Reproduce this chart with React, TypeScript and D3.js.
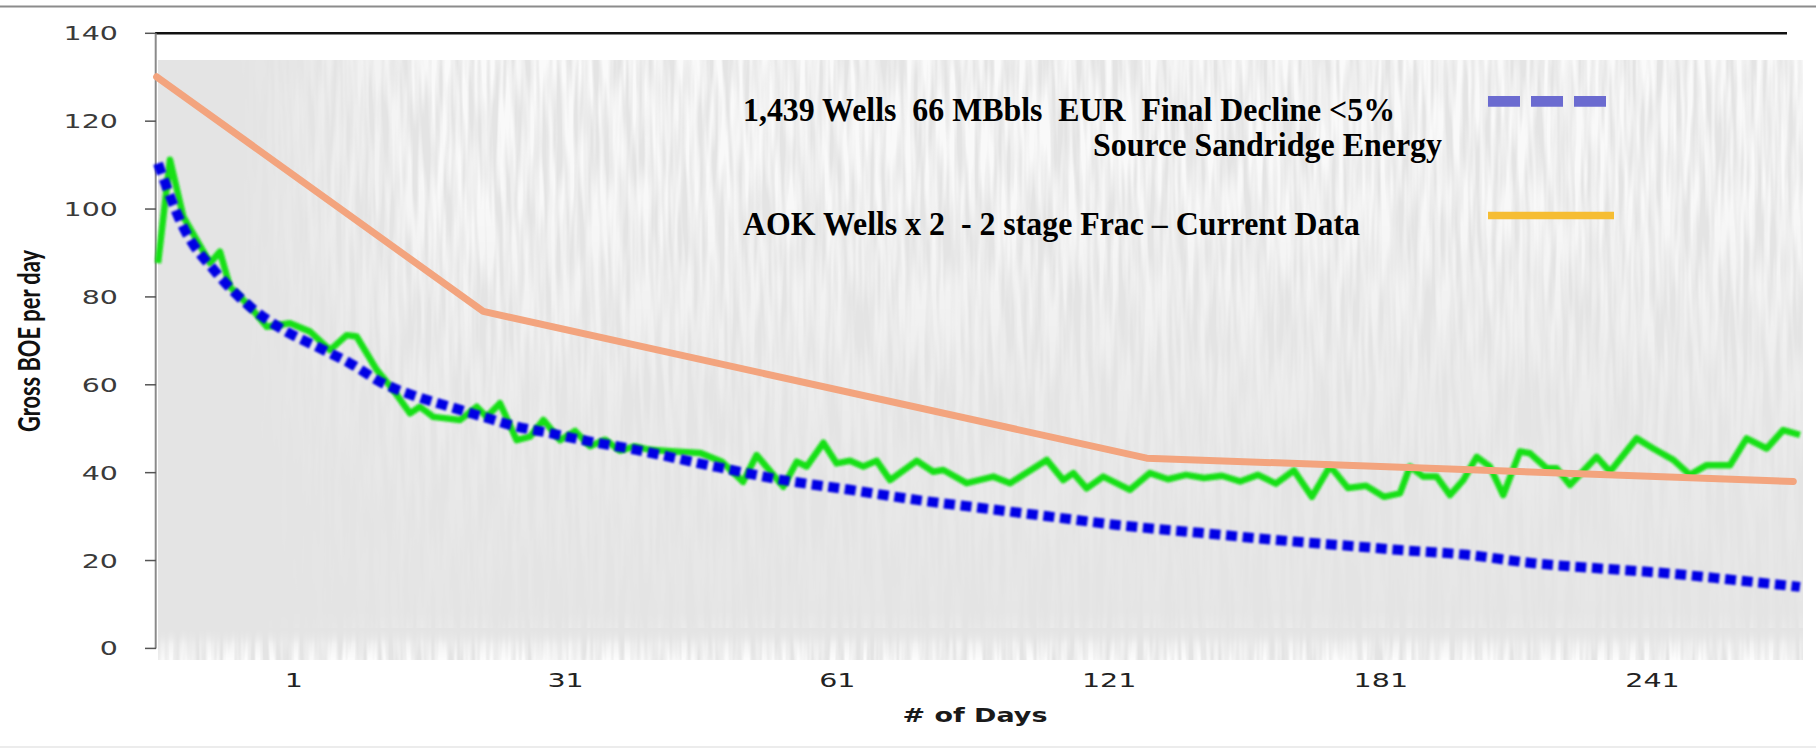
import React from "react";
import * as d3 from "d3";

// ---- data ----
const yTicks = [0, 20, 40, 60, 80, 100, 120, 140];
const xTickLabels = ["1", "31", "61", "121", "181", "241"];
const xTickPos = [10, 30, 50, 70, 90, 110]; // axis units (20 units per label step)

const greenX = [0, 0.88, 1.86, 3.83, 4.56, 5.3, 6.77, 8.0, 9.71, 11.19, 12.66, 13.89, 14.62, 16.1, 17.32, 18.55, 19.28, 20.26, 22.23, 23.46, 24.19, 25.17, 26.4, 27.38, 28.36, 29.59, 30.69, 31.8, 32.9, 34.0, 35.1, 36.21, 38.0, 39.89, 41.5, 43.06, 44.06, 46.02, 47.01, 47.74, 48.97, 49.95, 50.93, 51.91, 52.9, 53.88, 55.84, 57.06, 57.8, 59.52, 61.48, 62.71, 65.41, 66.63, 67.37, 68.35, 69.57, 71.54, 73.01, 74.34, 75.66, 76.99, 78.31, 79.64, 80.96, 82.28, 83.61, 84.93, 86.26, 87.58, 88.91, 90.23, 91.41, 92.15, 93.13, 94.11, 95.09, 96.07, 97.06, 98.03, 99.01, 100.24, 100.98, 102.21, 102.94, 103.92, 105.89, 106.87, 108.83, 110.05, 111.53, 112.75, 113.98, 115.7, 116.92, 118.4, 119.62, 120.85];
const greenY = [87.7, 111.2, 98.3, 87.7, 90.3, 82.3, 77.8, 73.2, 74.0, 72.1, 67.9, 71.3, 71.0, 63.4, 58.8, 53.5, 55.0, 52.7, 52.0, 55.0, 52.7, 55.8, 47.4, 48.2, 52.0, 47.4, 49.5, 46.0, 47.5, 45.0, 46.0, 45.2, 44.8, 44.5, 42.5, 37.9, 44.0, 36.8, 42.5, 41.4, 46.8, 42.1, 42.7, 41.4, 42.7, 38.3, 42.7, 40.2, 40.6, 37.6, 39.1, 37.6, 42.9, 38.3, 39.9, 36.4, 39.1, 36.1, 39.9, 38.5, 39.5, 38.8, 39.3, 38.0, 39.5, 37.5, 40.5, 34.5, 41.5, 36.5, 37.0, 34.5, 35.3, 41.4, 39.1, 39.1, 34.9, 38.3, 43.6, 41.4, 34.9, 44.8, 44.4, 41.0, 41.0, 37.2, 43.6, 40.2, 47.8, 45.5, 42.9, 39.5, 41.7, 41.7, 47.8, 45.5, 49.7, 48.6];

const blueX = [0, 1.84, 4.32, 6.77, 9.22, 11.68, 14.13, 16.58, 19.04, 21.49, 23.94, 26.4, 28.85, 31.28, 35.0, 41.12, 46.02, 50.93, 55.84, 60.74, 65.65, 70.56, 76.69, 82.21, 87.0, 91.41, 96.32, 101.2, 106.13, 111.04, 115.92, 120.85];
const blueY = [110.4, 96.0, 85.4, 77.8, 72.5, 68.7, 64.9, 60.3, 57.3, 55.0, 52.7, 50.5, 49.0, 47.4, 45.3, 41.3, 38.3, 36.1, 33.8, 31.9, 30.0, 28.1, 26.3, 24.7, 23.5, 22.4, 21.3, 19.4, 18.2, 17.1, 15.6, 14.0];

const orangeX = [-0.1, 23.94, 72.77, 120.36];
const orangeY = [130.1, 76.7, 43.3, 38.0];

const legend1 = "1,439 Wells  66 MBbls  EUR  Final Decline <5%";
const legend2 = "Source Sandridge Energy";
const legend3 = "AOK Wells x 2  - 2 stage Frac \u2013 Current Data";

export default function App() {
  const W = 1816, H = 754;
  const x = d3.scaleLinear().domain([0, 121]).range([158, 1802]);
  const y = d3.scaleLinear().domain([0, 140]).range([648.4, 33.3]);

  const lineLin = d3.line<[number, number]>().x(d => x(d[0])).y(d => y(d[1]));
  const lineSmooth = d3.line<[number, number]>().x(d => x(d[0])).y(d => y(d[1])).curve(d3.curveMonotoneX);

  const greenPts = greenX.map((v, i) => [v, greenY[i]] as [number, number]);
  const bluePts = blueX.map((v, i) => [v, blueY[i]] as [number, number]);
  const orangePts = orangeX.map((v, i) => [v, orangeY[i]] as [number, number]);

  const plotL = 158, plotR = 1803, plotT = 60, plotB = 660;
  const serif = "'Liberation Serif', 'Times New Roman', serif";

  return (
    <svg width={W} height={H} style={{ position: "fixed", left: 0, top: 0, background: "#fff" }}>
      <defs>
        <linearGradient id="vgrad" gradientUnits="userSpaceOnUse" x1={0} y1={plotT} x2={0} y2={plotB}>
          <stop offset="0" stopColor="#fff" stopOpacity={0.8} />
          <stop offset="0.23" stopColor="#fff" stopOpacity={0.74} />
          <stop offset="0.4" stopColor="#fff" stopOpacity={0.52} />
          <stop offset="0.57" stopColor="#fff" stopOpacity={0.3} />
          <stop offset="0.73" stopColor="#fff" stopOpacity={0.18} />
          <stop offset="0.92" stopColor="#fff" stopOpacity={0.1} />
          <stop offset="0.96" stopColor="#fff" stopOpacity={0.35} />
          <stop offset="1" stopColor="#fff" stopOpacity={0.9} />
        </linearGradient>
        <linearGradient id="hgrad" gradientUnits="userSpaceOnUse" x1={230} y1={0} x2={440} y2={0}>
          <stop offset="0" stopColor="#000" />
          <stop offset="1" stopColor="#fff" />
        </linearGradient>
        <linearGradient id="botgrad" gradientUnits="userSpaceOnUse" x1={0} y1={628} x2={0} y2={plotB}>
          <stop offset="0" stopColor="#000" />
          <stop offset="0.5" stopColor="#fff" />
          <stop offset="1" stopColor="#fff" />
        </linearGradient>
        <mask id="hmask" maskUnits="userSpaceOnUse" x={0} y={0} width={W} height={H}>
          <rect x={plotL} y={plotT} width={plotR - plotL} height={plotB - plotT} fill="url(#hgrad)" />
          <rect x={plotL} y={628} width={plotR - plotL} height={plotB - 628} fill="url(#botgrad)" />
        </mask>
        <filter id="streaks" filterUnits="userSpaceOnUse" x={plotL} y={plotT} width={plotR - plotL} height={plotB - plotT}>
          <feTurbulence type="fractalNoise" baseFrequency="0.16 0.011" numOctaves={2} seed={7} result="n" />
          <feColorMatrix in="n" type="matrix"
            values="0 0 0 0 1  0 0 0 0 1  0 0 0 0 1  2.6 0 0 0 -0.75" result="w" />
          <feComposite in="w" in2="SourceGraphic" operator="in" />
        </filter>
        <filter id="blurG" x="-5%" y="-5%" width="110%" height="110%">
          <feGaussianBlur stdDeviation={0.9} />
        </filter>
        <filter id="blurB" x="-5%" y="-10%" width="110%" height="120%">
          <feGaussianBlur stdDeviation={1.3} />
        </filter>
      </defs>

      {/* slide borders */}
      <line x1={0} x2={W} y1={6.5} y2={6.5} stroke="#8c8c8c" strokeWidth={2} />
      <line x1={0} x2={W} y1={747} y2={747} stroke="#e6e6e6" strokeWidth={1.5} />

      {/* plot background (well cloud) */}
      <rect x={plotL} y={plotT} width={plotR - plotL} height={plotB - plotT} fill="#e4e4e4" />
      <g mask="url(#hmask)">
        <rect x={plotL} y={plotT} width={plotR - plotL} height={plotB - plotT} fill="url(#vgrad)" filter="url(#streaks)" />
      </g>

      {/* top frame line */}
      <line x1={155} x2={1787} y1={y(140)} y2={y(140)} stroke="#111" strokeWidth={2.6} />

      {/* y axis */}
      <line x1={155.7} x2={155.7} y1={y(140)} y2={y(0)} stroke="#8a8a8a" strokeWidth={2} />
      {yTicks.map(t => (
        <g key={t}>
          <line x1={145} x2={156} y1={y(t)} y2={y(t)} stroke="#555" strokeWidth={1.5} />
          <text transform={`translate(118,${y(t) + 7}) scale(1.5,1)`} textAnchor="end"
            fontFamily="'DejaVu Sans', Verdana, sans-serif" fontSize={19} fill="#3a3a3a">{t}</text>
        </g>
      ))}

      {/* x labels */}
      {xTickLabels.map((l, i) => (
        <text key={l} transform={`translate(${x(xTickPos[i])},686.5) scale(1.5,1)`} textAnchor="middle"
          fontFamily="'DejaVu Sans', Verdana, sans-serif" fontSize={19} fill="#222">{l}</text>
      ))}

      {/* axis titles */}
      <text x={975 - 72.5} y={721.5} textLength={145} lengthAdjust="spacingAndGlyphs"
        fontFamily="'DejaVu Sans', Verdana, sans-serif" fontWeight="bold" fontSize={19} fill="#1a1a1a">
        # of Days
      </text>
      <text transform="translate(40,341) rotate(-90)" x={-91} y={0} textLength={182} lengthAdjust="spacingAndGlyphs"
        fontFamily="Lato, 'Open Sans', sans-serif" fontWeight="bold" fontSize={31} fill="#111">
        Gross BOE per day
      </text>

      {/* series */}
      <path d={lineLin(greenPts) || ""} fill="none" stroke="#16e016" strokeWidth={6.5}
        strokeLinejoin="round" filter="url(#blurG)" />
      <path d={lineSmooth(bluePts) || ""} fill="none" stroke="#0000e4" strokeWidth={10}
        strokeDasharray="11 5.7" filter="url(#blurB)" />
      <path d={lineLin(orangePts) || ""} fill="none" stroke="#f3a47e" strokeWidth={7}
        strokeLinecap="round" strokeLinejoin="round" />

      {/* legend */}
      <text x={743} y={121} textLength={652} lengthAdjust="spacingAndGlyphs"
        fontFamily={serif} fontWeight="bold" fontSize={34} fill="#000"
        style={{ whiteSpace: "pre" }}>{legend1}</text>
      <text x={1093} y={156} textLength={349} lengthAdjust="spacingAndGlyphs"
        fontFamily={serif} fontWeight="bold" fontSize={34} fill="#000">{legend2}</text>
      <text x={743} y={235} textLength={617} lengthAdjust="spacingAndGlyphs"
        fontFamily={serif} fontWeight="bold" fontSize={34} fill="#000"
        style={{ whiteSpace: "pre" }}>{legend3}</text>
      <line x1={1488} x2={1606} y1={101.3} y2={101.3} stroke="#6b6bd0" strokeWidth={10.7} strokeDasharray="32 11" />
      <line x1={1488} x2={1614} y1={215.5} y2={215.5} stroke="#f6bd33" strokeWidth={7.6} />
    </svg>
  );
}
